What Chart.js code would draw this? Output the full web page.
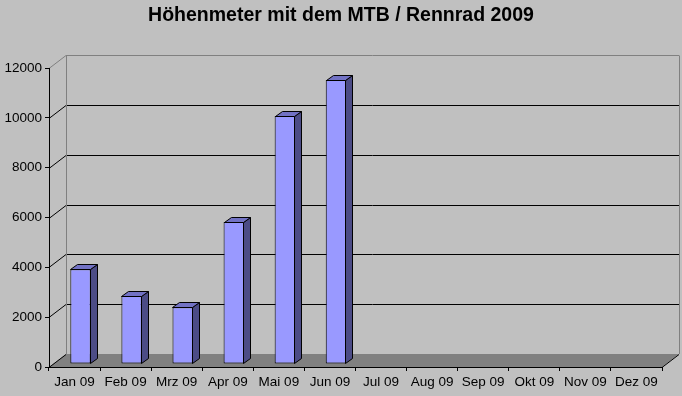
<!DOCTYPE html>
<html lang="de">
<head>
    <meta charset="UTF-8">
    <title>Höhenmeter 2009</title>
    <script src="https://cdn.jsdelivr.net/npm/chart.js"></script>
    <style>
        body { margin: 0; background: #c0c0c0; }
        #wrap { width: 682px; height: 396px; }
    </style>
</head>
<body>
    <div id="wrap">
        <canvas id="hmChart" width="682" height="396"></canvas>
    </div>

    <script>
        // data
        const months = ['Jan 09', 'Feb 09', 'Mrz 09', 'Apr 09', 'Mai 09', 'Jun 09',
                        'Jul 09', 'Aug 09', 'Sep 09', 'Okt 09', 'Nov 09', 'Dez 09'];
        const meters = [3800, 2730, 2280, 5700, 9950, 11400, null, null, null, null, null, null];
        const yTicks = [0, 2000, 4000, 6000, 8000, 10000, 12000];

        const DEPTH_X = 17, DEPTH_Y = 13;   // back wall offset
        const BAR_X = 6, BAR_Y = 3;         // bar front face offset
        const SIDE_X = 7, SIDE_Y = 5;       // bar depth

        const FONT = '"Liberation Sans", Arial, sans-serif';

        const wallPlugin = {
            id: 'wall3d',
            beforeDraw(chart) {
                const ctx = chart.ctx;
                const a = chart.chartArea;
                const ys = chart.scales.y;
                ctx.save();
                ctx.fillStyle = '#c0c0c0';
                ctx.fillRect(0, 0, chart.width, chart.height);

                // floor
                const b = Math.round(a.bottom);
                ctx.fillStyle = '#808080';
                ctx.beginPath();
                ctx.moveTo(a.left, b);
                ctx.lineTo(a.right, b);
                ctx.lineTo(a.right + DEPTH_X, b - DEPTH_Y);
                ctx.lineTo(a.left + DEPTH_X, b - DEPTH_Y);
                ctx.closePath();
                ctx.fill();

                ctx.lineWidth = 1;
                yTicks.forEach(t => {
                    const y = Math.round(ys.getPixelForValue(t));
                    const top = t === yTicks[yTicks.length - 1];
                    ctx.strokeStyle = top ? '#808080' : '#000000';
                    // diagonal from axis to back wall
                    ctx.beginPath();
                    ctx.moveTo(a.left, y + 0.5);
                    ctx.lineTo(a.left + DEPTH_X, y - DEPTH_Y + 0.5);
                    ctx.stroke();
                    if (t > 0) {
                        ctx.beginPath();
                        ctx.moveTo(a.left + DEPTH_X, y - DEPTH_Y + 0.5);
                        ctx.lineTo(a.right + DEPTH_X, y - DEPTH_Y + 0.5);
                        ctx.stroke();
                    }
                });

                // wall edges
                const yTop = Math.round(ys.getPixelForValue(12000)) - DEPTH_Y;
                ctx.strokeStyle = '#808080';
                ctx.beginPath();
                ctx.moveTo(a.left + DEPTH_X + 0.5, b - DEPTH_Y);
                ctx.lineTo(a.left + DEPTH_X + 0.5, yTop + 0.5);
                ctx.moveTo(a.right + DEPTH_X + 0.5, yTop + 0.5);
                ctx.lineTo(a.right + DEPTH_X + 0.5, b - DEPTH_Y);
                ctx.stroke();

                // right floor edge
                ctx.strokeStyle = '#000000';
                ctx.beginPath();
                ctx.moveTo(a.right, b + 0.5);
                ctx.lineTo(a.right + DEPTH_X, b - DEPTH_Y + 0.5);
                ctx.stroke();
                ctx.restore();
            },
            beforeDatasetsDraw(chart) {
                chart.ctx.save();
                chart.ctx.translate(BAR_X, -BAR_Y);
            },
            afterDatasetsDraw(chart) {
                const ctx = chart.ctx;
                ctx.restore();
                const meta = chart.getDatasetMeta(0);
                ctx.save();
                ctx.lineWidth = 1;
                ctx.strokeStyle = '#000000';
                meta.data.forEach((bar, i) => {
                    if (meters[i] == null) return;
                    const p = bar.getProps(['x', 'y', 'base', 'width'], true);
                    const xl = Math.round(p.x - p.width / 2 + BAR_X) + 0.5;
                    const xr = Math.round(p.x + p.width / 2 + BAR_X) - 0.5;
                    const yt = Math.round(p.y - BAR_Y) + 0.5;
                    const yb = Math.round(p.base - BAR_Y) - 0.5;
                    // side
                    ctx.fillStyle = '#4c4c86';
                    ctx.beginPath();
                    ctx.moveTo(xr, yt);
                    ctx.lineTo(xr + SIDE_X, yt - SIDE_Y);
                    ctx.lineTo(xr + SIDE_X, yb - SIDE_Y);
                    ctx.lineTo(xr, yb);
                    ctx.closePath();
                    ctx.fill();
                    ctx.stroke();
                    // top
                    ctx.fillStyle = '#7272c4';
                    ctx.beginPath();
                    ctx.moveTo(xl, yt);
                    ctx.lineTo(xl + SIDE_X, yt - SIDE_Y);
                    ctx.lineTo(xr + SIDE_X, yt - SIDE_Y);
                    ctx.lineTo(xr, yt);
                    ctx.closePath();
                    ctx.fill();
                    ctx.stroke();
                });
                ctx.restore();
            }
        };

        new Chart(document.getElementById('hmChart'), {
            type: 'bar',
            data: {
                labels: months,
                datasets: [{
                    data: meters,
                    backgroundColor: '#9999ff',
                    borderColor: '#000000',
                    borderWidth: 1,
                    borderSkipped: false,
                    categoryPercentage: 1,
                    barPercentage: 0.4
                }]
            },
            options: {
                responsive: false,
                animation: false,
                devicePixelRatio: 1,
                layout: { padding: 0 },
                plugins: {
                    legend: { display: false },
                    tooltip: { enabled: false },
                    title: {
                        display: true,
                        text: 'Höhenmeter mit dem MTB / Rennrad 2009',
                        color: '#000000',
                        font: { family: FONT, size: 19.5, weight: 'bold' },
                        padding: { top: 4, bottom: 40.6 }
                    }
                },
                scales: {
                    x: {
                        afterFit: s => { s.height = 29; },
                        grid: { drawOnChartArea: false, drawTicks: true, tickLength: 4, color: '#000000' },
                        border: { display: true, color: '#000000' },
                        ticks: {
                            color: '#000000',
                            padding: 3,
                            maxRotation: 0,
                            autoSkip: false,
                            font: { family: FONT, size: 13.5 }
                        }
                    },
                    y: {
                        min: 0,
                        max: 12000,
                        afterFit: s => { s.width = 49; },
                        grid: { drawOnChartArea: false, drawTicks: true, tickLength: 4, color: '#000000' },
                        border: { display: true, color: '#000000' },
                        ticks: {
                            stepSize: 2000,
                            color: '#000000',
                            padding: 3,
                            callback: v => String(v),
                            font: { family: FONT, size: 13.5 }
                        }
                    },
                    // empty right axis: keeps room for the wall depth
                    yRight: {
                        position: 'right',
                        afterFit: s => { s.width = 20; },
                        grid: { display: false },
                        border: { display: false },
                        ticks: { display: false }
                    }
                }
            },
            plugins: [wallPlugin]
        });
    </script>
</body>
</html>
